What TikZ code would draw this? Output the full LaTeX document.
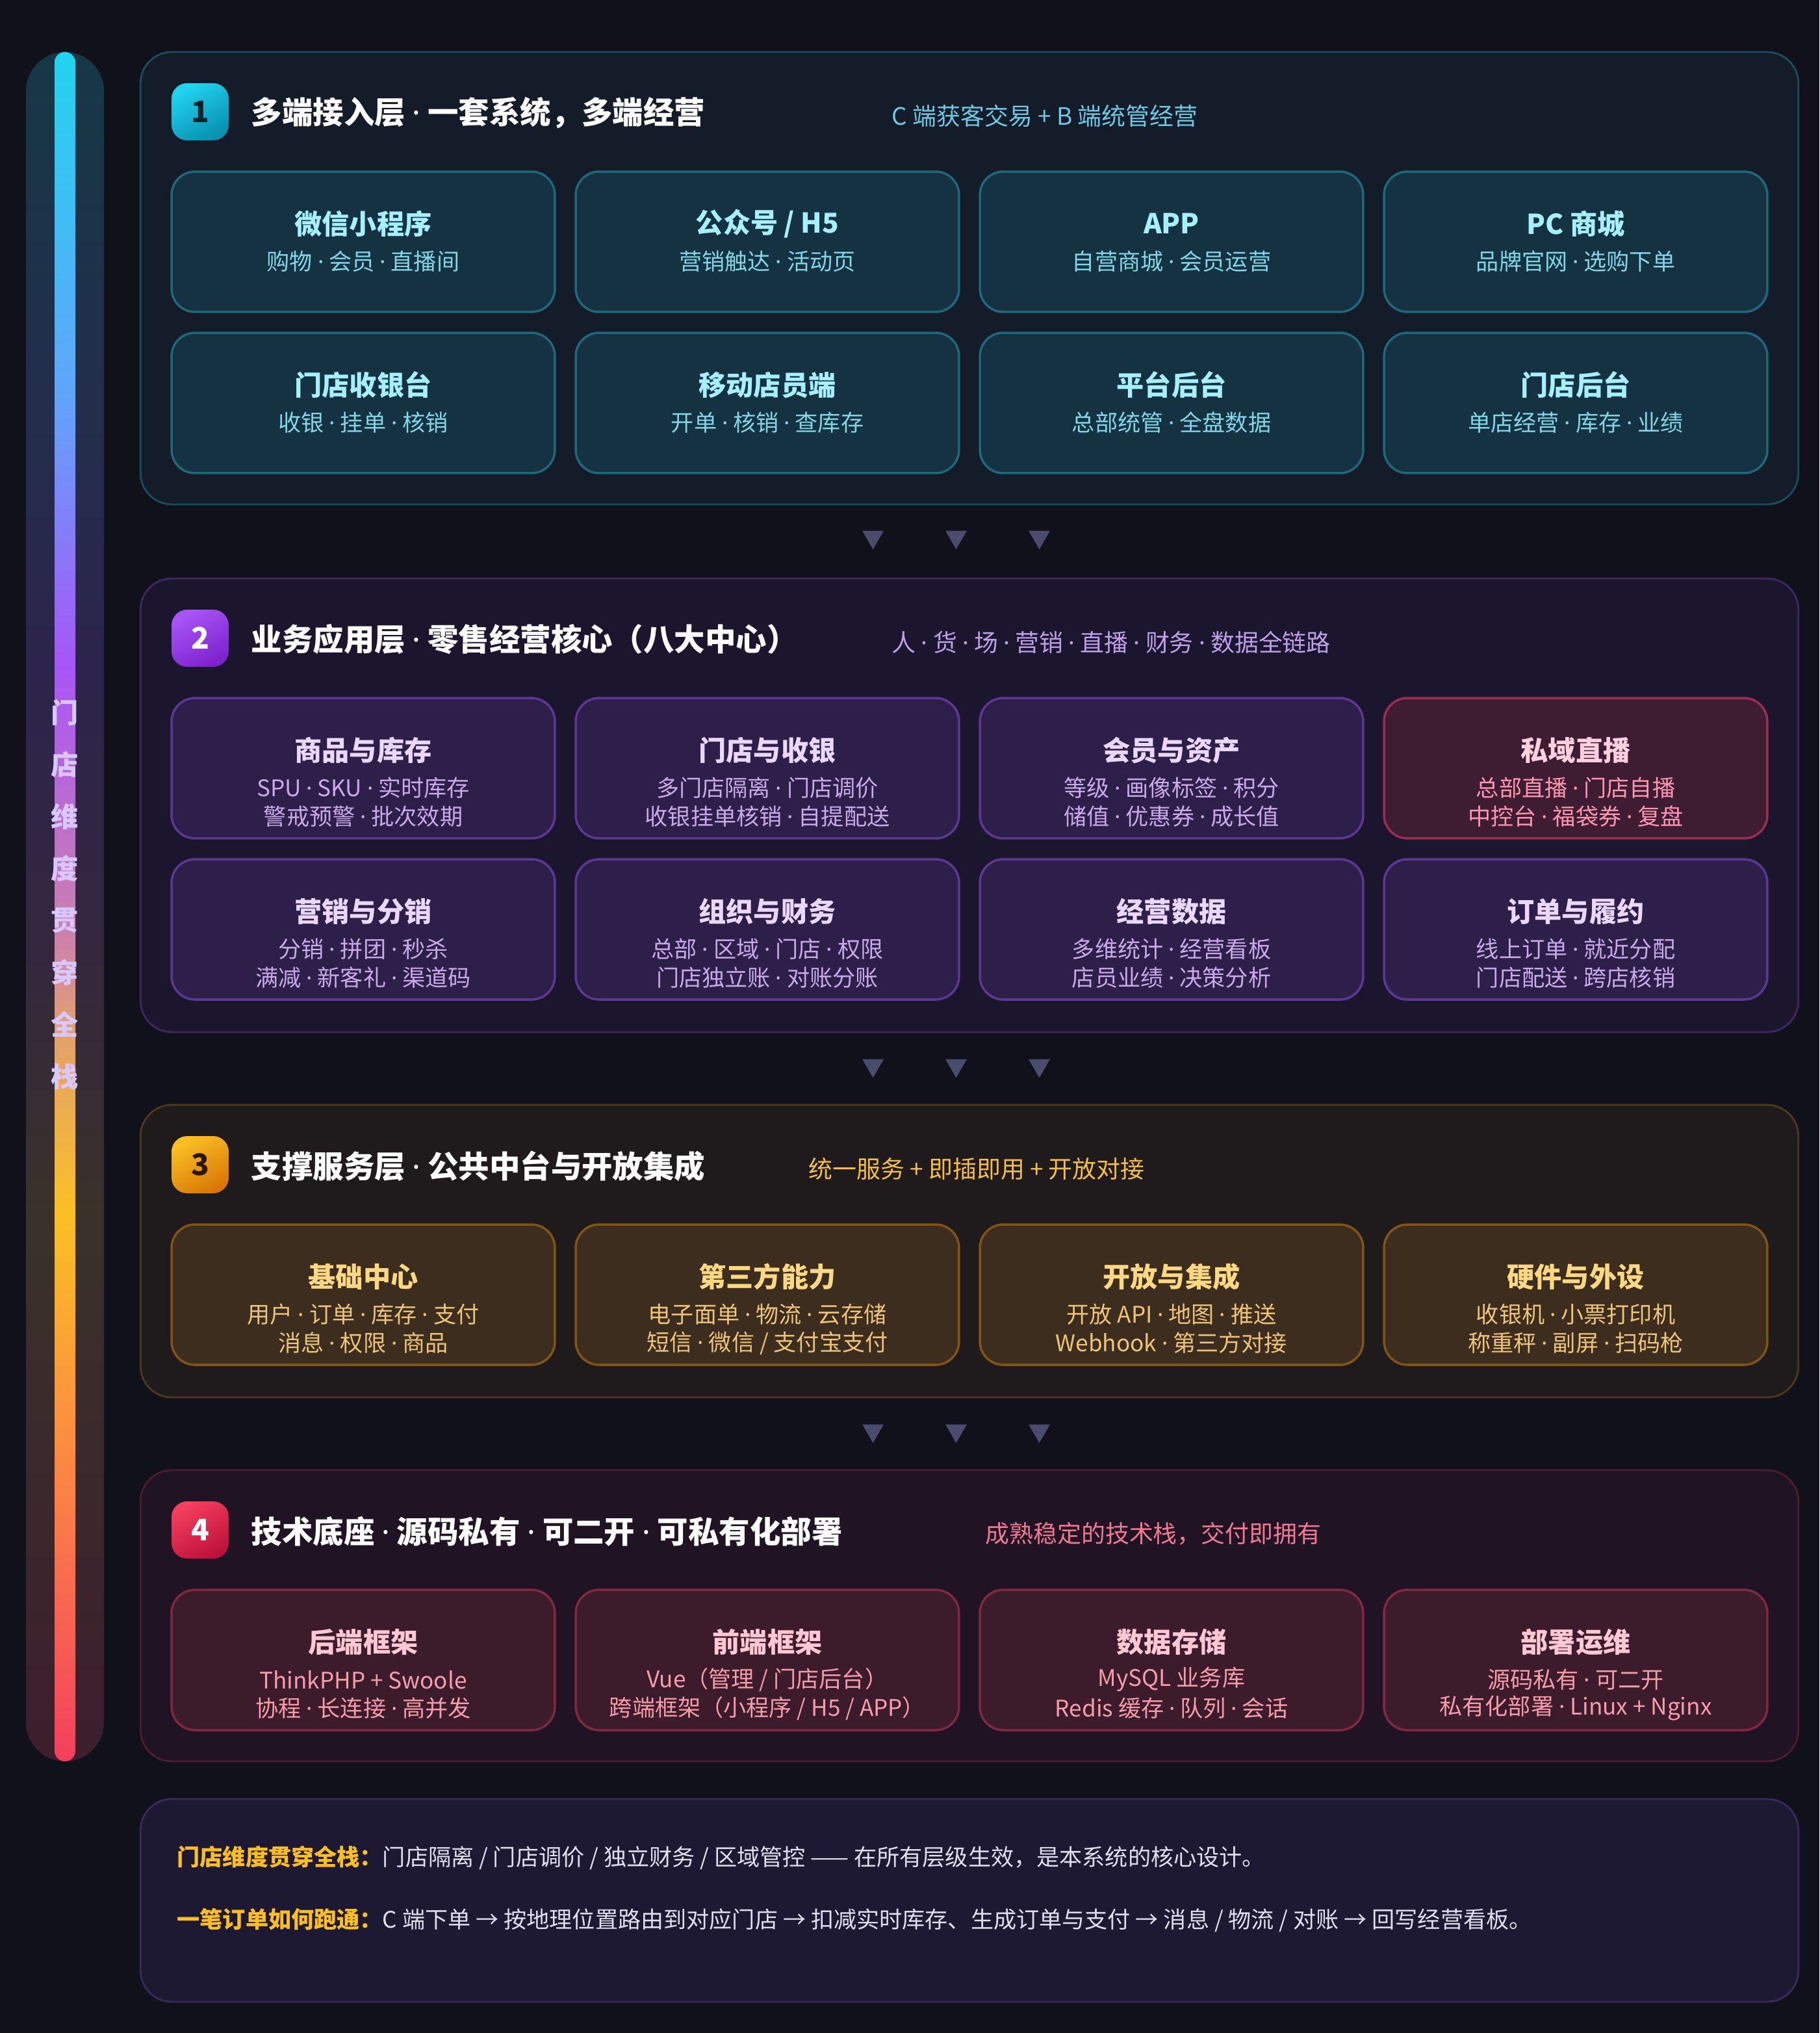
\documentclass[tikz,border=0pt]{standalone}
\usepackage{fontspec}
\setmainfont{Noto Sans CJK SC}
\newfontfamily\dotfont{Noto Sans}
\usetikzlibrary{calc}
\catcode`\·=\active
\def·{{\dotfont\char"00B7}}

\definecolor{bg}{RGB}{17,17,28}
\definecolor{tbg}{RGB}{19,28,40}\definecolor{tedge}{RGB}{24,78,94}
\definecolor{tfill}{RGB}{21,50,66}\definecolor{tline}{RGB}{30,104,122}
\definecolor{tttl}{RGB}{165,240,252}\definecolor{tsub}{RGB}{130,214,230}\definecolor{tnote}{RGB}{110,200,225}
\definecolor{vbg}{RGB}{27,22,46}\definecolor{vedge}{RGB}{62,40,98}
\definecolor{vfill}{RGB}{46,31,74}\definecolor{vline}{RGB}{92,56,148}
\definecolor{vttl}{RGB}{236,216,255}\definecolor{vsub}{RGB}{200,170,232}\definecolor{vnote}{RGB}{190,160,232}
\definecolor{rfill}{RGB}{62,28,50}\definecolor{rline}{RGB}{155,45,82}
\definecolor{rttl}{RGB}{255,208,224}\definecolor{rsub}{RGB}{252,150,178}
\definecolor{abg}{RGB}{31,26,28}\definecolor{aedge}{RGB}{78,57,26}
\definecolor{afill}{RGB}{60,45,30}\definecolor{aline}{RGB}{128,84,22}
\definecolor{attl}{RGB}{252,216,130}\definecolor{asub}{RGB}{236,196,122}\definecolor{anote}{RGB}{245,190,70}
\definecolor{dbg}{RGB}{32,20,36}\definecolor{dedge}{RGB}{78,28,46}
\definecolor{dfill}{RGB}{60,27,42}\definecolor{dline}{RGB}{128,40,66}
\definecolor{dttl}{RGB}{255,200,212}\definecolor{dsub}{RGB}{246,156,172}\definecolor{dnote}{RGB}{240,120,145}
\definecolor{fbg}{RGB}{30,25,50}\definecolor{fedge}{RGB}{58,42,92}
\definecolor{ftext}{RGB}{225,222,240}\definecolor{famber}{RGB}{251,191,36}
\definecolor{arrowc}{RGB}{75,75,110}
\definecolor{vlav}{RGB}{216,200,255}
\definecolor{b1a}{RGB}{34,211,238}\definecolor{b1b}{RGB}{8,145,178}
\definecolor{b2a}{RGB}{168,85,247}\definecolor{b2b}{RGB}{126,34,206}
\definecolor{b3a}{RGB}{251,191,36}\definecolor{b3b}{RGB}{217,119,6}
\definecolor{b4a}{RGB}{244,63,94}\definecolor{b4b}{RGB}{190,18,60}

\pgfdeclareverticalshading{rail}{100bp}{color(0bp)=(b4a); color(25bp)=(b4a);
	color(33bp)=(rgb,255:red,251;green,130;blue,70); color(41bp)=(b3a);
	color(46.5bp)=(rgb,255:red,225;green,160;blue,110); color(49bp)=(rgb,255:red,205;green,130;blue,170);
	color(57bp)=(b2a); color(65bp)=(rgb,255:red,96;green,165;blue,250); color(75bp)=(b1a); color(100bp)=(b1a)}
\pgfdeclareverticalshading{railbed}{100bp}{color(0bp)=(rgb,255:red,60;green,30;blue,45); color(25bp)=(rgb,255:red,60;green,30;blue,45);
	color(41bp)=(rgb,255:red,58;green,50;blue,42); color(49bp)=(rgb,255:red,52;green,38;blue,62);
	color(57bp)=(rgb,255:red,44;green,36;blue,76); color(65bp)=(rgb,255:red,34;green,46;blue,76);
	color(75bp)=(rgb,255:red,22;green,56;blue,70); color(100bp)=(rgb,255:red,22;green,56;blue,70)}

\newcommand\card[7]{%
	\node[card=#4] (#1) at (#2,#3) {};
	\node[ttl=#4] at ($(#1.north)+(0,41)$) {#5};
	\node[sub=#4] at ($(#1.north)+(0,70)$) {#6};
	\if\relax\detokenize{#7}\relax\else
	\node[sub=#4] at ($(#1.north)+(0,92)$) {#7};
	\fi}

\begin{document}
\begin{tikzpicture}[x=0.02cm, y=-0.02cm,
	layer/.style={draw=#1edge, fill=#1bg, line width=0.8pt, rounded corners=0.48cm, minimum width=25.52cm, inner sep=0pt},
	card/.style={draw=#1line, fill=#1fill, line width=1pt, rounded corners=0.36cm, minimum width=5.9cm, minimum height=2.16cm, inner sep=0pt},
	ttl/.style={text=#1ttl, font=\fontsize{12}{14}\selectfont\bfseries},
	sub/.style={text=#1sub, font=\fontsize{10}{12}\selectfont},
	badge/.style={rounded corners=0.24cm, minimum size=0.88cm, inner sep=0pt, font=\fontsize{13}{15}\selectfont\bfseries},
	head/.style={anchor=west, inner sep=0pt, text=white, font=\fontsize{13.5}{16}\selectfont\bfseries},
	note/.style={anchor=west, inner sep=0pt, text=#1note, font=\fontsize{10.5}{12}\selectfont},
	down/.style={text=arrowc, font=\fontsize{10}{12}\selectfont},
	vtext/.style={text=vlav, font=\fontsize{12}{14}\selectfont\bfseries},
	foot/.style={anchor=west, inner sep=0pt, text=ftext, font=\fontsize{10}{12}\selectfont}]

	\fill[bg] (0,0) rectangle (1400,1564);

	\path[shading=railbed, rounded corners=0.6cm] (20,40) rectangle (80,1355);
	\path[shading=rail, rounded corners=0.16cm] (42,40) rectangle (58,1355);
	\foreach \ch [count=\i from 0] in {门,店,维,度,贯,穿,全,栈}
		\node[vtext] (v\i) at (50,548+40*\i) {\ch};

	\node[layer=t, minimum height=6.96cm] (L1) at (746,214) {};
	\node[badge, top color=b1a, bottom color=b1b, shading angle=30, text=b1b!25!black] (b1) at (154,86) {1};
	\node[head] (h1) at (193,87) {多端接入层 · 一套系统，多端经营};
	\node[note=t] (n1) at (686,89) {C 端获客交易 + B 端统管经营};
	\card{a1}{279.5}{186}{t}{微信小程序}{购物 · 会员 · 直播间}{}
	\card{a2}{590.5}{186}{t}{公众号 / H5}{营销触达 · 活动页}{}
	\card{a3}{901.5}{186}{t}{APP}{自营商城 · 会员运营}{}
	\card{a4}{1212.5}{186}{t}{PC 商城}{品牌官网 · 选购下单}{}
	\card{a5}{279.5}{310}{t}{门店收银台}{收银 · 挂单 · 核销}{}
	\card{a6}{590.5}{310}{t}{移动店员端}{开单 · 核销 · 查库存}{}
	\card{a7}{901.5}{310}{t}{平台后台}{总部统管 · 全盘数据}{}
	\card{a8}{1212.5}{310}{t}{门店后台}{单店经营 · 库存 · 业绩}{}

	\node[layer=v, minimum height=6.98cm] (L2) at (746,619.5) {};
	\node[badge, top color=b2a, bottom color=b2b, shading angle=30, text=white] (b2) at (154,491) {2};
	\node[head] (h2) at (193,492) {业务应用层 · 零售经营核心（八大中心）};
	\node[note=v] (n2) at (686,494) {人 · 货 · 场 · 营销 · 直播 · 财务 · 数据全链路};
	\card{c1}{279.5}{591}{v}{商品与库存}{SPU · SKU · 实时库存}{警戒预警 · 批次效期}
	\card{c2}{590.5}{591}{v}{门店与收银}{多门店隔离 · 门店调价}{收银挂单核销 · 自提配送}
	\card{c3}{901.5}{591}{v}{会员与资产}{等级 · 画像标签 · 积分}{储值 · 优惠券 · 成长值}
	\card{c4}{1212.5}{591}{r}{私域直播}{总部直播 · 门店自播}{中控台 · 福袋券 · 复盘}
	\card{c5}{279.5}{715}{v}{营销与分销}{分销 · 拼团 · 秒杀}{满减 · 新客礼 · 渠道码}
	\card{c6}{590.5}{715}{v}{组织与财务}{总部 · 区域 · 门店 · 权限}{门店独立账 · 对账分账}
	\card{c7}{901.5}{715}{v}{经营数据}{多维统计 · 经营看板}{店员业绩 · 决策分析}
	\card{c8}{1212.5}{715}{v}{订单与履约}{线上订单 · 就近分配}{门店配送 · 跨店核销}

	\node[layer=a, minimum height=4.5cm] (L3) at (746,962.5) {};
	\node[badge, top color=b3a, bottom color=b3b, shading angle=30, text=b3b!20!black] (b3) at (154,896) {3};
	\node[head] (h3) at (193,897) {支撑服务层 · 公共中台与开放集成};
	\node[note=a] (n3) at (622,899) {统一服务 + 即插即用 + 开放对接};
	\card{s1}{279.5}{996}{a}{基础中心}{用户 · 订单 · 库存 · 支付}{消息 · 权限 · 商品}
	\card{s2}{590.5}{996}{a}{第三方能力}{电子面单 · 物流 · 云存储}{短信 · 微信 / 支付宝支付}
	\card{s3}{901.5}{996}{a}{开放与集成}{开放 API · 地图 · 推送}{Webhook · 第三方对接}
	\card{s4}{1212.5}{996}{a}{硬件与外设}{收银机 · 小票打印机}{称重秤 · 副屏 · 扫码枪}

	\node[layer=d, minimum height=4.48cm] (L4) at (746,1243) {};
	\node[badge, top color=b4a, bottom color=b4b, shading angle=30, text=white] (b4) at (154,1177) {4};
	\node[head] (h4) at (193,1178) {技术底座 · 源码私有 · 可二开 · 可私有化部署};
	\node[note=d] (n4) at (758,1180) {成熟稳定的技术栈，交付即拥有};
	\card{k1}{279.5}{1277}{d}{后端框架}{ThinkPHP + Swoole}{协程 · 长连接 · 高并发}
	\card{k2}{590.5}{1277}{d}{前端框架}{Vue（管理 / 门店后台）}{跨端框架（小程序 / H5 / APP）}
	\card{k3}{901.5}{1277}{d}{数据存储}{MySQL 业务库}{Redis 缓存 · 队列 · 会话}
	\card{k4}{1212.5}{1277}{d}{部署运维}{源码私有 · 可二开}{私有化部署 · Linux + Nginx}

	\foreach \y [count=\j] in {416,822,1103}
		\foreach \x [count=\k] in {672,736,800}
			\node[down] (d\j\k) at (\x,\y) {▼};

	\node[layer=f, minimum height=3.12cm] (F) at (746,1462) {};
	\node[foot] (f1) at (136,1429) {{\color{famber}\bfseries 门店维度贯穿全栈：}门店隔离 / 门店调价 / 独立财务 / 区域管控 —— 在所有层级生效，是本系统的核心设计。};
	\node[foot] (f2) at (136,1477) {{\color{famber}\bfseries 一笔订单如何跑通：}C 端下单 → 按地理位置路由到对应门店 → 扣减实时库存、生成订单与支付 → 消息 / 物流 / 对账 → 回写经营看板。};
\end{tikzpicture}
\end{document}
